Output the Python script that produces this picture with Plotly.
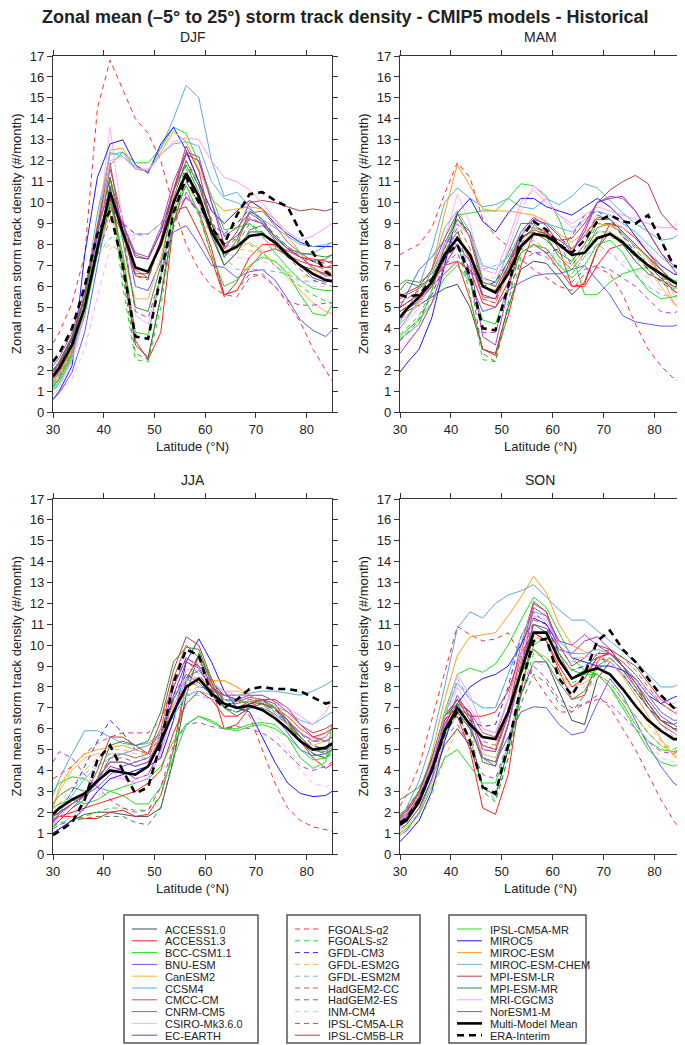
import plotly.graph_objects as go

# page has an 8 px body margin; the figure is sized to fit inside the window
OFF = 8
W, H = 685 - OFF, 1045 - OFF

LAT = [30, 31.25, 33.75, 36.25, 38.75, 41.25, 43.75, 46.25, 48.75, 51.25, 53.75, 56.25,
       58.75, 61.25, 63.75, 66.25, 68.75, 71.25, 73.75, 76.25, 78.75, 81.25, 83.75, 85]

MODELS = ["ACCESS1.0", "ACCESS1.3", "BCC-CSM1.1", "BNU-ESM", "CanESM2", "CCSM4", "CMCC-CM",
          "CNRM-CM5", "CSIRO-Mk3.6.0", "EC-EARTH",
          "FGOALS-g2", "FGOALS-s2", "GFDL-CM3", "GFDL-ESM2G", "GFDL-ESM2M", "HadGEM2-CC",
          "HadGEM2-ES", "INM-CM4", "IPSL-CM5A-LR", "IPSL-CM5B-LR",
          "IPSL-CM5A-MR", "MIROC5", "MIROC-ESM", "MIROC-ESM-CHEM", "MPI-ESM-LR", "MPI-ESM-MR",
          "MRI-CGCM3", "NorESM1-M", "Multi-Model Mean", "ERA-Interim"]

# storm track density (#/month), one row per entry of MODELS
DJF = [
    [1.2,1.6,2.8,4.8,7.8,10.8,7.0,3.2,2.6,5.5,9.0,11.0,10.0,8.4,7.0,7.6,8.6,8.6,8.0,7.4,7.0,6.8,6.6,6.5],
    [1.5,1.9,3.0,4.8,7.6,10.2,7.5,3.4,2.5,3.8,9.0,10.3,9.6,7.8,5.6,5.8,6.9,7.6,7.8,7.5,7.2,7.0,6.9,7.0],
    [1.0,1.4,2.6,4.8,8.0,11.8,12.4,11.9,11.9,12.6,13.6,13.3,11.9,10.3,8.7,8.8,9.0,8.4,7.6,6.9,6.3,5.9,5.8,5.8],
    [0.6,0.9,1.9,3.8,7.0,10.0,9.0,6.0,5.8,7.2,8.6,8.9,8.0,7.0,6.9,6.4,6.7,6.8,6.3,5.4,4.4,3.9,3.6,3.9],
    [1.3,1.7,2.9,4.7,7.6,9.5,7.5,5.4,5.4,7.4,9.8,10.8,10.0,8.6,7.6,7.8,8.1,7.7,7.0,6.4,5.8,5.2,4.8,4.7],
    [1.6,2.0,3.3,5.6,9.5,12.3,12.4,11.6,11.5,12.6,14.0,15.6,15.0,12.0,10.3,10.5,9.8,9.0,8.4,7.9,7.5,7.6,7.9,8.1],
    [1.8,2.2,3.5,5.5,8.6,11.6,9.2,6.8,6.4,8.2,10.5,12.4,11.0,9.0,7.4,8.0,9.5,9.6,8.9,8.1,7.6,7.2,6.9,6.9],
    [2.0,2.4,3.6,5.5,8.5,11.2,8.8,7.5,7.3,8.6,10.6,11.8,10.5,8.6,7.0,7.6,8.7,8.9,8.4,7.8,7.4,7.2,7.3,7.5],
    [0.8,1.2,2.4,4.6,8.5,13.6,9.0,4.6,4.2,6.5,9.5,11.0,10.5,9.0,7.8,8.0,8.5,8.3,7.9,7.5,7.0,6.6,6.4,6.3],
    [1.9,2.3,3.5,5.5,8.4,10.2,9.0,7.4,7.3,8.6,10.6,12.3,12.0,10.0,8.0,8.4,9.2,9.0,8.2,7.6,7.0,6.4,6.2,6.3],
    [3.3,3.8,5.2,7.5,14.5,16.8,15.4,14.0,13.3,12.0,9.8,8.0,6.8,6.0,5.6,5.8,6.6,6.5,6.0,5.2,4.3,3.0,2.0,1.5],
    [1.3,1.7,2.9,4.8,8.0,10.6,6.0,2.5,2.4,5.0,9.0,11.6,10.3,8.6,8.4,8.2,8.0,7.6,7.0,6.5,6.0,5.6,5.3,5.2],
    [1.9,2.3,3.4,5.3,8.0,9.8,9.0,8.5,8.5,9.0,10.0,10.2,9.6,9.0,8.5,9.0,9.7,9.2,8.4,7.8,7.4,7.2,7.1,7.2],
    [1.6,2.0,3.2,5.0,7.6,8.0,7.6,8.4,8.5,9.0,9.9,10.3,9.4,8.5,7.8,7.8,7.7,7.6,7.2,6.7,6.4,6.6,6.8,6.8],
    [1.5,1.9,3.1,4.9,7.5,8.3,8.4,8.5,8.5,9.0,10.0,10.5,9.6,8.7,7.4,6.8,6.8,6.8,6.7,6.6,6.3,6.2,6.3,6.3],
    [2.0,2.4,3.6,5.6,8.8,11.2,8.5,6.5,6.3,8.2,10.5,12.0,11.0,9.2,7.8,8.3,9.3,9.0,8.5,7.9,7.4,7.0,6.8,6.6],
    [1.8,2.2,3.4,5.4,8.6,11.0,6.5,2.8,2.5,5.5,9.8,11.8,10.8,9.0,7.6,8.0,9.0,8.6,7.9,7.4,6.8,6.3,6.1,6.0],
    [0.6,0.9,1.6,3.0,5.5,7.8,8.2,8.5,8.5,9.0,9.8,10.3,9.7,8.8,7.6,7.4,7.3,7.2,7.0,6.6,6.2,6.0,6.0,6.0],
    [1.4,1.8,3.0,5.0,7.5,9.2,8.6,4.8,4.5,6.5,8.8,10.5,9.4,7.5,5.6,5.5,6.4,6.6,6.0,5.3,5.1,5.1,5.2,5.2],
    [1.6,2.0,3.2,5.0,7.8,9.8,8.5,6.6,6.6,8.2,9.6,9.8,8.6,7.3,5.5,6.2,7.4,8.0,8.0,7.7,7.4,7.3,7.2,7.1],
    [1.2,1.6,2.8,4.6,7.5,10.0,7.5,3.8,3.7,6.5,9.5,10.8,9.5,7.5,6.0,6.3,7.0,7.4,7.2,6.6,5.6,4.7,4.6,5.1],
    [0.6,1.0,2.2,7.5,11.2,12.8,13.0,11.8,11.4,12.8,13.6,12.5,11.0,9.6,9.0,9.6,10.1,9.7,9.0,8.5,8.1,7.9,7.9,7.9],
    [1.4,1.8,3.0,5.5,9.0,12.5,12.6,11.6,11.5,12.4,13.4,12.9,11.6,10.2,9.6,9.7,9.8,9.7,9.2,8.4,7.6,6.8,6.5,6.7],
    [1.1,1.5,2.7,5.0,8.8,12.4,12.2,11.7,11.5,12.3,12.8,12.9,12.7,11.0,10.2,10.0,9.7,9.2,8.8,8.4,8.0,7.9,8.0,8.1],
    [2.0,2.4,3.6,5.5,8.8,11.9,8.5,6.5,6.4,8.2,10.6,12.7,11.5,9.0,7.8,8.6,10.0,10.1,10.0,9.8,9.6,9.7,9.6,9.7],
    [1.9,2.3,3.5,5.4,8.6,11.2,8.2,5.0,4.8,7.0,10.2,12.0,10.8,9.0,7.4,8.2,9.6,9.2,8.3,7.8,7.6,7.5,7.4,7.5],
    [1.0,1.3,2.5,4.8,8.0,12.0,12.2,11.6,11.6,12.3,12.9,13.1,13.0,12.0,11.2,11.0,10.6,10.0,9.2,8.6,8.2,8.4,8.8,9.0],
    [2.2,2.6,3.8,5.8,8.8,10.6,9.0,7.6,7.4,8.8,11.0,12.4,12.2,10.0,8.4,8.8,9.5,9.1,8.4,7.8,7.4,6.9,6.5,6.5],
    [1.7,2.1,3.2,5.0,7.8,10.5,8.6,6.9,6.7,8.0,10.0,11.4,10.3,8.6,7.6,7.9,8.4,8.5,8.1,7.5,7.0,6.6,6.3,6.25],
    [2.4,2.8,4.0,6.0,8.5,9.6,7.0,3.6,3.5,6.5,9.5,11.2,10.0,8.8,8.0,9.4,10.4,10.5,10.1,9.8,8.6,7.6,6.7,6.5],
]

MAM = [
    [4.6,4.8,5.1,5.5,5.9,6.1,5.0,3.0,2.8,5.0,6.8,7.2,7.1,6.4,5.6,6.2,7.8,8.6,8.0,7.2,6.6,6.3,6.0,6.0],
    [4.8,5.0,5.4,6.0,6.6,7.2,5.4,3.0,2.7,4.6,7.0,8.5,8.6,7.8,6.0,6.1,7.8,9.0,8.8,8.3,7.6,6.8,6.2,6.0],
    [3.5,3.7,4.2,5.8,8.0,9.4,9.5,9.6,9.6,10.2,10.9,10.8,10.3,9.2,7.6,5.6,5.6,6.2,6.6,6.8,6.9,6.6,6.3,6.2],
    [5.0,5.6,6.8,7.4,8.2,8.0,6.2,4.8,5.0,5.8,6.2,6.5,6.6,6.6,6.8,7.0,6.3,5.6,4.6,4.3,4.2,4.1,4.1,4.2],
    [4.2,4.5,5.2,6.0,7.2,8.4,7.6,5.4,5.2,6.6,8.0,8.6,8.3,7.4,7.0,7.8,8.6,8.6,8.2,7.6,6.8,6.0,5.2,5.0],
    [4.3,4.8,6.0,7.8,10.0,10.7,10.2,9.8,9.9,10.2,9.8,9.7,10.2,9.9,10.3,10.9,10.7,10.1,9.5,9.0,8.6,8.2,8.3,8.6],
    [5.4,5.6,5.9,6.4,7.6,8.6,7.2,5.5,5.4,6.8,8.2,8.8,8.6,8.2,7.8,8.4,9.3,9.2,8.6,8.0,7.4,6.6,6.0,5.8],
    [6.1,6.3,6.2,6.6,8.0,9.2,8.4,6.4,6.2,7.6,9.0,9.0,8.4,7.4,6.8,7.6,8.8,9.0,8.5,7.9,7.4,6.8,6.2,5.9],
    [4.0,4.3,5.0,6.2,8.2,10.4,9.0,6.4,6.0,7.8,9.6,10.8,10.2,9.4,8.8,9.0,9.4,9.2,8.8,8.4,7.8,7.0,5.6,5.2],
    [4.6,4.9,5.3,6.0,7.3,8.4,7.4,5.6,5.4,7.0,8.6,9.3,8.9,8.0,7.6,8.6,10.0,10.2,10.3,9.6,8.6,7.6,6.8,6.4],
    [7.5,7.7,8.0,8.8,10.4,11.9,11.2,9.2,8.4,7.9,7.3,6.8,6.4,6.0,5.8,6.6,6.9,6.6,5.6,4.2,3.0,2.2,1.6,1.4],
    [3.7,4.0,4.6,5.8,7.6,8.2,5.6,2.5,2.4,4.8,7.4,8.0,7.8,7.0,6.6,7.4,8.6,8.6,8.0,7.4,6.8,6.2,5.9,5.8],
    [5.0,5.2,5.6,6.2,7.4,8.0,6.8,6.0,6.2,7.2,7.8,7.6,7.6,7.8,8.4,9.4,9.6,9.2,8.4,7.6,6.8,6.2,5.8,5.6],
    [2.8,3.2,4.0,5.2,7.0,8.0,7.4,6.2,6.0,7.0,8.0,8.2,7.6,7.0,6.8,7.6,8.4,8.4,8.0,7.6,7.2,6.6,5.8,5.4],
    [3.4,3.8,4.5,5.6,7.2,7.8,7.2,6.8,7.0,7.4,8.0,8.2,7.8,7.2,6.9,7.4,8.0,7.6,7.0,6.5,6.0,5.6,5.5,5.6],
    [5.2,5.4,5.8,6.4,7.8,9.0,7.8,5.4,5.2,6.8,8.4,9.2,9.0,8.4,7.8,8.4,9.4,9.2,8.6,8.0,7.4,6.8,6.2,6.0],
    [4.8,5.0,5.4,6.0,7.6,8.8,6.4,2.8,2.4,5.2,8.0,8.9,8.6,8.0,7.0,7.8,9.0,9.0,8.4,7.8,7.0,6.4,6.2,6.0],
    [3.0,3.3,4.0,5.2,6.8,7.4,7.2,6.4,6.4,7.2,7.8,8.2,7.8,7.4,7.0,7.4,7.8,7.6,7.2,6.8,6.4,5.8,5.2,5.0],
    [3.4,3.7,4.4,5.6,7.0,7.6,6.2,3.8,3.8,5.8,7.2,7.6,7.4,6.8,6.2,6.8,7.0,6.8,6.4,6.0,5.4,4.8,4.7,4.9],
    [5.0,5.2,5.6,6.2,7.0,7.2,6.8,5.2,5.0,6.2,7.6,8.0,7.6,6.8,6.0,6.0,7.0,7.8,8.0,7.6,7.0,6.4,5.8,5.6],
    [3.6,3.9,4.4,5.2,6.4,7.0,6.2,4.4,4.2,6.0,7.6,8.0,7.8,7.0,6.4,7.0,8.0,8.2,7.6,6.6,5.8,5.4,5.5,5.6],
    [1.9,2.3,3.0,4.5,7.0,9.5,10.2,9.1,8.6,9.5,10.2,10.2,9.8,9.6,9.4,9.8,10.2,9.8,9.2,8.4,7.6,7.0,6.6,6.5],
    [4.2,4.5,5.3,6.8,9.5,11.8,10.8,9.7,9.6,9.6,9.5,9.4,9.1,8.5,8.1,8.6,9.0,8.9,8.6,8.0,7.3,6.6,5.2,4.9],
    [4.0,4.4,5.4,6.8,8.8,9.6,8.6,7.0,6.8,7.4,8.6,9.0,9.0,8.8,8.6,9.2,9.6,9.4,9.0,8.6,8.0,7.4,6.9,6.8],
    [5.5,5.7,6.0,6.8,8.3,9.5,8.3,6.0,5.8,7.0,8.3,8.7,8.5,8.2,8.3,9.0,10.0,10.6,11.0,11.3,10.9,9.5,8.8,8.6],
    [5.8,6.2,6.0,6.4,7.8,9.2,8.6,6.2,6.0,7.2,8.4,8.6,8.2,7.6,7.2,8.0,9.2,9.2,8.6,8.0,7.4,6.8,6.2,5.9],
    [4.4,4.6,5.2,6.2,8.0,9.0,8.4,6.8,6.6,8.2,10.0,10.6,10.0,9.4,9.0,9.4,9.8,9.6,9.4,9.2,9.0,8.8,8.8,9.2],
    [2.8,3.2,4.0,5.2,7.0,8.0,7.2,3.6,3.2,5.8,8.4,9.2,9.0,8.4,7.6,8.8,10.0,10.3,10.2,9.6,8.6,7.6,7.0,6.8],
    [4.5,4.9,5.5,6.2,7.5,8.3,7.5,6.0,5.7,6.6,7.9,8.5,8.4,8.0,7.5,7.6,8.3,8.5,8.1,7.5,7.0,6.6,6.2,6.1],
    [5.6,5.5,5.6,6.3,7.4,8.0,6.5,4.0,3.9,6.0,8.3,9.1,8.7,8.0,7.6,8.2,9.1,9.4,9.1,9.0,9.4,8.2,7.0,6.9],
]

JJA = [
    [1.0,1.2,1.6,1.9,2.0,2.0,1.9,1.8,1.8,2.2,4.5,7.6,9.6,8.2,7.0,6.8,7.2,7.4,7.0,6.2,5.4,4.8,4.6,5.0],
    [1.7,1.8,1.8,1.7,1.7,2.0,2.1,1.8,1.9,2.8,5.0,8.4,9.4,8.0,6.0,6.2,7.0,7.4,7.2,6.4,5.4,4.6,4.1,4.3],
    [3.0,3.4,3.7,3.6,3.2,3.0,2.8,2.4,2.4,3.2,4.6,6.2,6.6,6.3,6.0,6.0,6.2,6.3,6.2,5.6,4.6,4.1,4.4,6.2],
    [1.4,1.6,2.2,2.8,3.2,3.8,4.2,4.4,4.6,5.2,6.8,8.4,8.8,8.0,7.6,7.6,7.6,7.2,6.6,5.8,5.0,4.7,4.8,5.0],
    [2.4,3.0,4.0,4.6,4.8,4.8,4.8,5.0,5.2,5.8,7.4,8.6,8.4,8.0,7.8,7.8,7.6,7.2,6.6,6.0,5.4,5.2,5.4,5.6],
    [2.8,3.6,4.8,5.9,5.9,5.6,5.3,5.2,5.3,5.8,7.4,8.4,8.0,7.9,7.6,7.6,7.7,7.8,7.8,7.7,7.6,7.8,8.1,8.3],
    [1.9,2.2,2.6,2.8,3.4,4.6,4.8,4.6,4.8,6.0,8.4,10.0,9.4,8.0,7.2,7.0,7.3,7.4,7.0,6.4,5.8,5.4,5.6,6.0],
    [2.4,2.8,3.2,3.0,3.6,4.4,4.4,4.2,4.4,5.4,7.4,8.6,8.2,7.6,7.0,6.8,7.0,7.0,6.7,6.2,5.6,5.0,4.9,5.1],
    [1.2,1.4,1.8,2.4,3.0,3.6,3.6,3.4,3.6,4.8,7.0,8.4,8.4,7.8,7.2,7.0,7.0,6.9,6.6,6.2,5.8,5.5,5.8,6.2],
    [1.8,2.0,2.4,2.8,3.4,4.2,4.0,3.6,3.8,5.0,7.6,9.2,8.9,8.0,7.4,7.3,7.5,7.4,7.0,6.4,5.6,5.0,5.0,5.2],
    [3.6,3.8,4.2,4.8,5.3,5.6,5.8,5.8,5.8,6.4,8.2,9.3,8.6,7.8,7.6,7.4,6.6,5.0,3.4,2.2,1.6,1.3,1.15,1.1],
    [1.3,1.5,1.6,1.8,2.0,2.2,2.2,2.1,2.1,2.8,5.0,8.2,9.2,8.4,7.6,7.4,7.3,7.2,6.8,6.2,5.4,4.8,4.6,4.8],
    [1.5,2.0,3.0,4.2,5.4,6.4,5.8,5.0,4.8,5.6,7.6,8.6,8.2,7.6,7.2,7.0,7.2,7.2,6.9,6.4,5.8,5.2,5.0,5.2],
    [2.0,2.4,3.2,4.0,4.6,5.0,5.0,4.8,4.8,5.4,6.8,7.8,8.0,8.2,8.3,8.0,7.6,7.2,6.8,6.2,5.6,5.0,4.8,4.9],
    [1.8,2.2,3.0,3.8,4.4,4.8,4.8,4.6,4.6,5.2,6.8,7.6,7.6,7.4,7.4,7.4,7.4,7.2,6.8,6.3,5.8,5.4,5.4,5.5],
    [1.8,2.0,2.4,2.8,3.6,4.6,4.6,4.4,4.6,5.8,8.0,9.4,9.0,7.8,7.2,7.2,7.4,7.3,7.0,6.4,5.8,5.4,5.4,5.6],
    [1.2,1.4,1.6,1.7,1.8,1.8,1.8,1.5,1.4,2.2,4.6,8.2,9.6,8.4,7.4,7.2,7.3,7.2,6.9,6.3,5.5,4.8,4.6,4.8],
    [1.4,1.6,2.0,2.5,2.8,3.0,3.2,3.6,3.8,4.6,6.4,7.8,7.8,7.4,7.0,6.8,6.7,6.4,5.8,5.0,4.0,3.4,3.2,3.4],
    [4.4,4.9,4.6,3.8,3.2,2.6,2.2,2.0,2.1,3.2,5.2,6.2,6.3,6.1,6.0,6.1,6.0,5.8,5.4,4.8,4.2,4.0,4.2,4.4],
    [1.6,1.8,2.0,2.2,2.4,2.6,2.8,3.0,3.4,4.0,5.8,7.2,7.8,7.4,6.6,6.6,7.0,7.2,7.0,6.6,6.0,5.6,5.8,6.0],
    [2.2,2.4,2.6,2.4,2.6,3.0,3.2,3.4,3.6,4.2,5.4,6.2,6.6,6.4,6.0,5.9,6.1,6.2,6.0,5.6,5.0,4.5,4.6,5.0],
    [1.0,1.2,1.6,2.2,3.0,3.6,3.8,4.0,4.2,4.6,6.4,9.2,10.3,9.2,7.8,7.0,6.8,5.6,4.4,3.4,2.9,2.75,2.8,3.0],
    [2.2,3.2,4.2,4.8,5.0,5.1,5.2,5.0,4.8,5.6,7.2,8.0,8.2,8.3,8.3,8.0,7.6,7.3,7.0,6.6,6.0,5.6,5.4,5.6],
    [1.6,2.0,2.8,3.6,4.2,4.6,4.8,5.0,5.2,5.6,6.6,7.6,7.8,7.6,7.4,7.3,7.3,7.3,7.1,6.8,6.4,6.2,6.6,6.8],
    [1.8,2.0,2.4,2.8,4.0,5.6,5.6,5.2,4.8,6.4,8.8,10.4,10.0,8.4,7.2,7.0,7.2,7.4,7.4,7.0,6.2,5.8,6.0,6.2],
    [1.3,1.6,2.2,2.6,3.6,5.2,5.4,5.2,5.4,6.8,9.2,9.9,9.8,8.2,7.0,6.6,7.0,7.2,7.0,6.4,5.6,5.0,4.8,5.0],
    [1.4,1.8,2.4,3.0,3.6,4.0,3.6,3.4,3.6,4.8,7.0,8.8,9.0,8.2,7.8,7.6,7.6,7.6,7.3,7.0,6.6,6.2,6.8,7.4],
    [1.6,1.9,2.4,2.8,3.6,4.4,4.4,4.2,4.4,5.6,8.0,9.4,9.0,8.2,7.6,7.4,7.6,7.6,7.3,6.8,6.2,5.6,5.4,5.6],
    [1.9,2.2,2.6,2.9,3.5,4.0,3.9,3.8,4.2,5.4,6.8,8.0,8.4,7.7,7.2,7.0,7.1,6.9,6.5,6.0,5.4,5.0,5.1,5.3],
    [0.9,1.1,1.5,2.6,4.5,5.2,4.0,2.9,3.2,5.3,8.2,9.8,9.5,7.6,7.0,7.4,7.9,8.0,7.9,7.9,7.8,7.5,7.2,7.3],
]

SON = [
    [1.2,1.4,2.2,3.6,5.2,6.0,5.2,3.2,2.8,5.0,7.6,9.2,9.2,7.8,6.4,6.2,8.4,9.2,8.6,7.8,7.0,6.4,6.2,6.4],
    [1.5,1.8,2.7,4.2,6.0,6.6,5.0,2.2,1.9,3.8,7.8,10.6,10.2,8.8,7.4,7.6,9.2,9.8,9.0,8.0,7.0,6.2,5.8,5.6],
    [1.3,1.6,2.6,4.4,6.8,8.6,8.9,8.7,9.1,10.0,11.2,12.3,11.8,10.6,9.4,8.8,8.6,8.0,7.2,6.2,5.4,5.0,4.9,5.0],
    [0.9,1.1,2.0,3.6,6.0,7.6,6.6,4.6,4.4,5.6,6.8,7.05,7.0,6.2,5.7,5.85,7.2,8.4,7.6,6.4,5.2,4.2,3.4,3.2],
    [1.1,1.3,2.0,3.4,5.6,6.8,6.0,4.8,4.6,6.2,8.6,9.8,9.4,8.6,8.0,8.2,8.6,8.2,7.4,6.6,5.8,5.2,4.8,4.6],
    [1.8,2.2,3.5,5.4,8.0,10.8,11.6,11.3,12.0,12.4,12.6,12.9,12.3,11.7,11.2,11.2,10.7,10.2,9.7,9.2,8.6,8.0,8.0,8.2],
    [1.6,1.9,2.8,4.4,6.4,7.4,6.8,5.8,5.6,7.4,10.0,12.1,11.6,9.6,8.4,8.6,9.4,9.6,9.2,8.6,7.8,7.2,6.8,6.6],
    [2.6,2.8,3.2,4.2,5.8,6.8,6.0,4.6,4.4,6.2,8.6,9.8,9.2,8.2,7.4,7.8,9.0,9.4,8.8,8.0,7.2,6.4,6.0,6.0],
    [1.4,1.7,2.6,4.2,6.2,8.0,7.0,6.0,5.8,7.4,9.4,10.8,10.2,9.2,8.8,9.0,9.4,9.2,8.6,8.0,7.2,6.4,5.8,5.6],
    [1.6,1.9,2.8,4.4,6.2,7.2,6.8,5.0,4.9,6.6,8.8,11.0,10.8,9.8,9.6,10.2,10.4,9.8,9.0,8.4,7.6,6.8,6.4,6.4],
    [2.3,2.8,4.2,6.4,8.6,10.9,10.5,10.2,10.3,10.6,9.5,8.5,7.6,6.8,6.8,7.2,7.6,7.0,6.0,5.0,3.8,2.6,1.6,1.2],
    [1.2,1.5,2.4,4.0,5.8,6.6,5.6,3.2,2.6,4.6,7.6,9.6,9.4,8.6,8.2,8.4,8.6,8.2,7.4,6.6,5.8,5.2,5.0,5.2],
    [1.3,1.6,2.6,4.2,6.0,6.8,6.4,6.1,6.2,8.0,10.4,11.6,11.0,9.6,8.8,9.0,9.4,9.2,8.6,7.8,7.0,6.4,6.0,6.0],
    [0.9,1.1,1.6,2.8,4.6,6.0,5.6,5.0,5.2,7.0,9.2,10.4,10.2,9.6,8.8,8.6,8.8,8.6,8.0,7.2,6.2,5.4,5.0,4.8],
    [1.2,1.5,2.4,4.0,6.4,8.4,7.4,7.0,7.0,8.6,10.2,11.0,10.6,9.8,9.2,9.2,9.4,9.2,8.6,7.8,7.0,6.2,5.6,5.6],
    [1.9,2.2,3.0,4.6,6.6,7.4,6.6,5.4,5.2,6.8,9.2,11.2,11.0,9.4,8.4,8.8,9.6,9.8,9.4,8.8,8.0,7.2,6.8,6.8],
    [1.7,2.0,2.8,4.4,6.4,7.2,6.0,3.0,2.5,4.6,7.2,8.6,8.2,7.2,6.8,7.6,8.8,9.4,8.8,8.0,7.2,6.4,6.0,6.0],
    [1.2,1.5,2.4,3.8,5.6,6.8,6.2,5.2,5.0,6.2,8.0,9.2,9.0,8.4,7.8,8.0,8.2,7.8,7.0,6.2,5.4,4.6,4.4,4.6],
    [1.4,1.7,2.6,4.0,5.6,6.2,5.2,3.8,3.6,5.4,7.6,9.0,8.4,7.4,7.0,7.2,7.4,7.2,6.6,6.0,5.4,4.9,4.8,5.0],
    [1.8,2.1,3.0,4.6,6.4,7.0,6.6,6.6,6.8,7.8,9.6,10.6,10.2,9.0,8.0,8.4,9.4,9.6,9.0,8.2,7.2,6.4,6.0,5.8],
    [1.0,1.2,1.9,3.2,4.6,5.0,4.2,3.4,3.4,5.2,8.0,10.0,10.4,9.6,8.8,8.6,8.6,8.0,7.0,6.0,5.0,4.4,4.2,4.35],
    [0.6,0.9,1.6,3.0,5.4,7.2,8.0,8.4,8.6,9.0,10.0,11.3,11.0,10.0,9.4,9.2,9.0,9.0,8.8,8.4,7.6,7.2,7.5,7.6],
    [1.3,1.6,2.8,4.8,7.4,9.5,10.4,10.5,10.6,11.4,12.3,13.3,12.5,11.0,10.0,9.7,9.5,9.2,8.5,7.6,6.6,5.5,4.7,4.5],
    [1.3,1.6,2.6,4.4,6.6,8.2,7.4,7.0,7.0,8.6,10.4,11.6,11.4,10.2,9.6,9.6,9.8,9.6,9.0,8.4,7.6,6.8,6.4,6.4],
    [1.7,2.0,2.9,4.5,6.6,7.4,6.4,5.2,5.0,6.8,9.6,12.0,11.6,10.0,9.0,9.4,10.0,9.8,9.4,9.0,8.2,7.4,7.0,7.0],
    [1.8,2.1,3.0,4.6,6.6,7.2,6.2,4.4,4.2,6.2,9.0,11.0,10.6,9.2,8.4,8.8,9.6,9.6,9.0,8.2,7.2,6.4,6.0,6.0],
    [1.6,1.9,2.8,4.4,6.6,8.6,7.6,6.0,5.8,7.4,9.6,11.4,11.2,10.0,9.4,9.4,9.6,9.2,8.6,8.2,7.8,7.4,7.2,7.4],
    [1.5,1.8,2.7,4.2,6.0,6.8,6.0,4.6,4.2,6.2,8.8,11.8,11.4,10.2,10.0,10.5,10.0,9.6,9.0,8.2,7.4,6.6,6.2,6.0],
    [1.4,1.6,2.5,4.0,5.9,7.0,6.2,5.6,5.5,6.8,8.7,10.6,10.6,9.3,8.4,8.7,8.9,8.6,7.9,7.1,6.4,5.9,5.5,5.5],
    [1.5,1.7,2.6,4.0,5.8,6.8,5.4,3.2,2.9,5.2,8.0,10.2,10.3,8.4,7.6,8.6,10.2,10.7,9.8,9.2,8.4,7.6,7.0,7.0],
]

SEASONS = ["DJF", "MAM", "JJA", "SON"]
SEASON_DATA = [DJF, MAM, JJA, SON]

COLORS = ["#4a4a4a", "#ff2020", "#22dd22", "#5c5cff", "#ffb050", "#58acdc", "#c05a5a",
          "#4a984a", "#ffb0ff", "#a028c0",
          "#ff3030", "#22dd22", "#2a2aff", "#ffb050", "#70b8e0", "#c05a5a",
          "#3c8c3c", "#ffb0ff", "#b040c8", "#ff2020",
          "#22dd22", "#1a1aff", "#ff9f1a", "#66b3e0", "#b84040", "#3c8c3c",
          "#ff99ff", "#b040c8", "#000000", "#000000"]
DASHED = {"FGOALS-g2", "FGOALS-s2", "GFDL-CM3", "GFDL-ESM2G", "GFDL-ESM2M", "HadGEM2-CC",
          "HadGEM2-ES", "INM-CM4", "IPSL-CM5A-LR"}

FONT = "Liberation Sans, Arial, sans-serif"
TXT = "#222"
YTITLE = "Zonal mean storm track density (#/month)"

# panel boxes in page pixels: left, right, top, bottom
PANELS = [(53, 332, 56, 412), (400, 680, 56, 412), (53, 332, 499, 854), (400, 680, 499, 854)]


def px(x):
    return (x - OFF) / W


def py(y):
    return 1 - (y - OFF) / H


def line_style(name, color):
    if name == "Multi-Model Mean":
        return dict(color=color, width=2.6)
    if name == "ERA-Interim":
        return dict(color=color, width=2.6, dash="7px,5px")
    if name in DASHED:
        return dict(color=color, width=1.0, dash="5px,4px")
    return dict(color=color, width=1.0)


def text(x, y, s, size=13, xanchor="center", **kw):
    fig.add_annotation(x=px(x), y=py(y), xref="paper", yref="paper", text=s,
                       showarrow=False, xanchor=xanchor, yanchor="middle",
                       font=dict(family=FONT, size=size, color=TXT), **kw)


fig = go.Figure()

for k, (season, data) in enumerate(zip(SEASONS, SEASON_DATA)):
    sx = "" if k == 0 else str(k + 1)
    for name, color, vals in zip(MODELS, COLORS, data):
        fig.add_trace(go.Scatter(
            x=LAT, y=vals, mode="lines", name=name, showlegend=False,
            line=line_style(name, color), xaxis="x" + sx, yaxis="y" + sx,
            hovertemplate=name + "<br>%{x}°N: %{y}<extra></extra>",
        ))

    l, r, t, b = PANELS[k]
    axis_common = dict(showline=True, linecolor="#333", linewidth=1.2, mirror="ticks",
                       ticks="outside", ticklen=5, tickwidth=1.1, tickcolor="#333",
                       showgrid=False, zeroline=False, automargin=False,
                       tickfont=dict(family=FONT, size=13, color=TXT))
    fig.update_layout({
        "xaxis" + sx: dict(axis_common, domain=[px(l), px(r)], range=[30, 85],
                          tickvals=[30, 40, 50, 60, 70, 80], anchor="y" + sx),
        "yaxis" + sx: dict(axis_common, domain=[py(b), py(t)], range=[0, 17], dtick=1,
                          anchor="x" + sx),
    })
    text((l + r) / 2, t - 19, season, size=14)
    text((l + r) / 2, b + 34, "Latitude (°N)")
    text(l - 37, (t + b) / 2, YTITLE, textangle=-90)

text(345, 17, "<b>Zonal mean (–5° to 25°) storm track density - CMIP5 models - Historical</b>",
     size=18)

# legend: three framed boxes
BOXES = [(124, 258), (287, 420), (449, 586)]
row0, drow = 929, 11.8
for c, (bl, br) in enumerate(BOXES):
    fig.add_shape(type="rect", xref="paper", yref="paper", x0=px(bl), x1=px(br),
                  y0=py(1043), y1=py(915), line=dict(color="#555", width=1.5))
    for j in range(10):
        idx = c * 10 + j
        name = MODELS[idx]
        ly = row0 + j * drow
        fig.add_shape(type="line", xref="paper", yref="paper", x0=px(bl + 8), x1=px(bl + 33),
                      y0=py(ly), y1=py(ly), line=line_style(name, COLORS[idx]))
        text(bl + 39, ly, name, size=11, xanchor="left", height=11, valign="middle")

fig.update_layout(width=W, height=H, autosize=False, margin=dict(l=0, r=0, t=0, b=0),
                  paper_bgcolor="white", plot_bgcolor="white", showlegend=False,
                  font=dict(family=FONT, color=TXT))

fig.write_html("out.html")
